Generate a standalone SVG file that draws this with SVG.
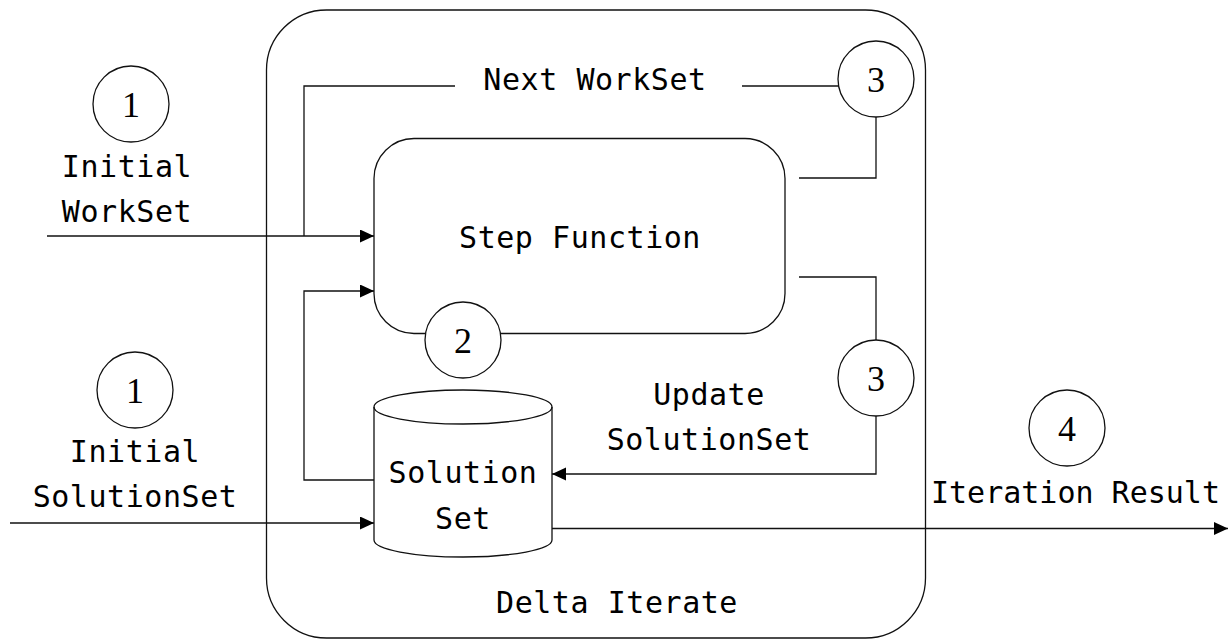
<svg xmlns="http://www.w3.org/2000/svg" width="1228" height="639" viewBox="0 0 1228 639">
<style>
.ln{fill:none;stroke:#111;stroke-width:1.3}
.shape{fill:#fff;stroke:#111;stroke-width:1.3}
.t{font-family:"DejaVu Sans Mono","Liberation Mono",monospace;font-size:30px;letter-spacing:0.55px;fill:#000;text-anchor:middle}
.n{font-family:"Liberation Serif","DejaVu Serif",serif;font-size:36px;fill:#000;text-anchor:middle}
</style>
<defs>
<marker id="arr" markerUnits="userSpaceOnUse" markerWidth="15" markerHeight="14" refX="14" refY="6.5" orient="auto">
<path d="M0,0 L14,6.5 L0,13 z" fill="#000"/>
</marker>
</defs>
<rect width="1228" height="639" fill="#fff"/>
<g id="delta-iterate">
<rect x="266.5" y="10" width="659" height="628" rx="60" ry="60" class="ln"/>
<text class="t" x="617" y="613">Delta Iterate</text>
</g>
<g id="connectors">
<path class="ln" d="M47,236 H374" marker-end="url(#arr)"/>
<path class="ln" d="M838,86 H742"/>
<path class="ln" d="M455,86 H304 V236"/>
<path class="ln" d="M799,178 H876 V117"/>
<path class="ln" d="M799,277 H876 V340"/>
<path class="ln" d="M876,416 V474 H552" marker-end="url(#arr)"/>
<path class="ln" d="M374,480 H304 V291 H374" marker-end="url(#arr)"/>
<path class="ln" d="M10,523 H374" marker-end="url(#arr)"/>
<path class="ln" d="M552,528.5 H1228" marker-end="url(#arr)"/>
</g>
<g id="step-function">
<rect x="374" y="138.5" width="411" height="195" rx="40" ry="40" class="shape"/>
<text class="t" x="580" y="248">Step Function</text>
</g>
<g id="solution-set">
<path class="shape" d="M374,407 V540 A89,17 0 0 0 552,540 V407 A89,17 0 0 0 374,407 z"/>
<path class="ln" d="M374,407 A89,17 0 0 0 552,407"/>
<text class="t" x="463" y="483">Solution</text>
<text class="t" x="463" y="529">Set</text>
</g>
<g id="label-initial-workset">
<circle cx="131" cy="104" r="38" class="shape"/>
<text class="n" x="131" y="117">1</text>
<text class="t" x="127" y="177">Initial</text>
<text class="t" x="127" y="222">WorkSet</text>
</g>
<g id="label-initial-solutionset">
<circle cx="135" cy="390" r="38" class="shape"/>
<text class="n" x="135" y="403">1</text>
<text class="t" x="135" y="462">Initial</text>
<text class="t" x="135" y="507">SolutionSet</text>
</g>
<g id="label-next-workset">
<circle cx="876" cy="79" r="38" class="shape"/>
<text class="n" x="876" y="92">3</text>
<text class="t" x="595" y="90">Next WorkSet</text>
</g>
<g id="label-step-2">
<circle cx="463" cy="340" r="38" class="shape"/>
<text class="n" x="463" y="353">2</text>
</g>
<g id="label-update-solutionset">
<circle cx="876" cy="378" r="38" class="shape"/>
<text class="n" x="876" y="391">3</text>
<text class="t" x="709" y="405">Update</text>
<text class="t" x="709" y="450">SolutionSet</text>
</g>
<g id="label-iteration-result">
<circle cx="1067" cy="428" r="38" class="shape"/>
<text class="n" x="1067" y="441">4</text>
<text class="t" x="931" y="503" style="text-anchor:start;letter-spacing:0px">Iteration Result</text>
</g>
</svg>
